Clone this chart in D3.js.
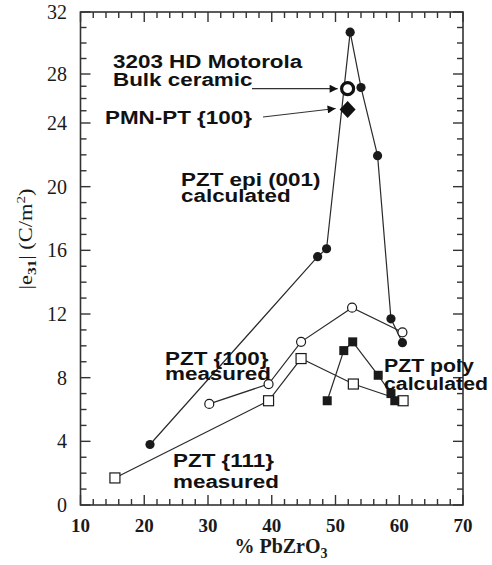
<!DOCTYPE html>
<html>
<head>
<meta charset="utf-8">
<script src="https://cdn.jsdelivr.net/npm/d3@7"></script>
<style>
  html, body { margin: 0; padding: 0; background: #fff; }
  svg { display: block; }
  .lbl { font-family: "Liberation Sans", Arial, sans-serif; font-weight: bold; font-size: 19px; fill: #111; }
</style>
</head>
<body>
<svg id="chart" width="492" height="565"></svg>
<script>
// % PbZrO3 composition and |e31| (C/m^2) for each series
const epiX   = [20.9, 47.2, 48.6, 52.3, 54.0, 56.6, 58.7, 60.5];
const epiY   = [3.8, 15.6, 16.1, 30.7, 26.9, 21.95, 11.7, 10.2];
const m100X  = [30.2, 39.5, 44.6, 52.6, 60.5];
const m100Y  = [6.35, 7.6, 10.25, 12.4, 10.85];
const m111X  = [15.4, 39.5, 44.6, 52.8, 60.6];
const m111Y  = [1.7, 6.55, 9.2, 7.6, 6.55];
const polyX  = [48.7, 51.3, 52.7, 56.7, 58.7, 59.3];
const polyY  = [6.55, 9.7, 10.25, 8.15, 7.0, 6.55];
const bulkX  = [51.9];
const bulkY  = [26.8];
const pmnX   = [51.9];
const pmnY   = [25.1];

const xTicks = [10, 20, 30, 40, 50, 60, 70];
const yTicks = [0, 4, 8, 12, 16, 20, 24, 28, 32];

const svg = d3.select("#chart");
const ink = "#1a1a1a";

const x = d3.scaleLinear().domain([10, 70]).range([80.5, 463]);
// the upper band of the ordinate is drawn slightly compressed
const y = d3.scaleLinear().domain([0, 24, 28, 32]).range([505, 123, 74, 12]);

const pts = (xs, ys) => xs.map((v, i) => [v, ys[i]]);
const line = d3.line().x(d => x(d[0])).y(d => y(d[1]));

// frame
svg.append("rect")
  .attr("x", x(10)).attr("y", y(32))
  .attr("width", x(70) - x(10)).attr("height", y(0) - y(32))
  .attr("fill", "none").attr("stroke", "#333").attr("stroke-width", 1.6);

// inward ticks on all four sides
const xMinor = d3.range(10, 70.1, 2);
const yMinor = d3.range(0, 32.1, 1);
const tk = svg.append("g").attr("stroke", "#333").attr("stroke-width", 1.4);
xMinor.forEach(v => {
  const len = v % 10 === 0 ? 10 : 6;
  tk.append("line").attr("x1", x(v)).attr("x2", x(v)).attr("y1", y(0)).attr("y2", y(0) - len);
  tk.append("line").attr("x1", x(v)).attr("x2", x(v)).attr("y1", y(32)).attr("y2", y(32) + len);
});
yMinor.forEach(v => {
  const len = v % 4 === 0 ? 10 : 6;
  tk.append("line").attr("y1", y(v)).attr("y2", y(v)).attr("x1", x(10)).attr("x2", x(10) + len);
  tk.append("line").attr("y1", y(v)).attr("y2", y(v)).attr("x1", x(70)).attr("x2", x(70) - len);
});

// tick labels
svg.append("g").selectAll("text").data(yTicks).join("text")
  .attr("x", 67).attr("y", d => y(d) + 7)
  .attr("text-anchor", "end")
  .attr("font-family", "Liberation Serif, Times New Roman, serif")
  .attr("font-size", 20).attr("fill", ink)
  .text(d => d);
svg.append("g").selectAll("text").data(xTicks).join("text")
  .attr("x", d => x(d)).attr("y", 532)
  .attr("text-anchor", "middle")
  .attr("font-family", "Liberation Serif, Times New Roman, serif")
  .attr("font-weight", "bold")
  .attr("font-size", 19).attr("fill", ink)
  .text(d => d);

// axis titles
const xt = svg.append("text")
  .attr("x", 281).attr("y", 553).attr("text-anchor", "middle")
  .attr("font-family", "Liberation Serif, Times New Roman, serif")
  .attr("font-weight", "bold")
  .attr("font-size", 20).attr("fill", ink);
xt.append("tspan").text("% PbZrO");
xt.append("tspan").attr("dy", 5).attr("font-size", 14).text("3");

const yt = svg.append("text")
  .attr("transform", "translate(32,239) rotate(-90) scale(1.18,1)")
  .attr("text-anchor", "middle")
  .attr("font-family", "Liberation Serif, Times New Roman, serif")
  .attr("font-size", 19).attr("fill", ink);
yt.append("tspan").text("|e");
yt.append("tspan").attr("dy", 4).attr("font-size", 13).attr("font-weight", "bold").text("31");
yt.append("tspan").attr("dy", -4).text("| (C/m");
yt.append("tspan").attr("dy", -7).attr("font-size", 13).text("2");
yt.append("tspan").attr("dy", 7).text(")");

// connecting lines
const lines = svg.append("g").attr("fill", "none").attr("stroke", "#2a2a2a").attr("stroke-width", 1.2);
[pts(epiX, epiY), pts(m100X, m100Y), pts(m111X, m111Y), pts(polyX, polyY)].forEach(d =>
  lines.append("path").attr("d", line(d)));

// markers
svg.append("g").selectAll("rect").data(pts(m111X, m111Y)).join("rect")
  .attr("x", d => x(d[0]) - 5).attr("y", d => y(d[1]) - 5)
  .attr("width", 10).attr("height", 10)
  .attr("fill", "#fff").attr("stroke", ink).attr("stroke-width", 1.2);
svg.append("g").selectAll("circle").data(pts(m100X, m100Y)).join("circle")
  .attr("cx", d => x(d[0])).attr("cy", d => y(d[1])).attr("r", 4.5)
  .attr("fill", "#fff").attr("stroke", ink).attr("stroke-width", 1.2);
svg.append("g").selectAll("rect").data(pts(polyX, polyY)).join("rect")
  .attr("x", d => x(d[0]) - 4.5).attr("y", d => y(d[1]) - 4.5)
  .attr("width", 9).attr("height", 9)
  .attr("fill", ink);
svg.append("g").selectAll("circle").data(pts(epiX, epiY)).join("circle")
  .attr("cx", d => x(d[0])).attr("cy", d => y(d[1])).attr("r", 4.6)
  .attr("fill", ink);

// bulk ceramic and PMN-PT reference points
svg.append("g").selectAll("circle").data(pts(bulkX, bulkY)).join("circle")
  .attr("cx", d => x(d[0])).attr("cy", d => y(d[1])).attr("r", 6)
  .attr("fill", "#fff").attr("stroke", "#111").attr("stroke-width", 3.2);
svg.append("g").selectAll("path").data(pts(pmnX, pmnY)).join("path")
  .attr("transform", d => `translate(${x(d[0])},${y(d[1])})`)
  .attr("d", "M0,-8.5L8,0L0,8.5L-8,0Z")
  .attr("fill", "#111");

// arrows pointing at the reference points
const defs = svg.append("defs");
defs.append("marker").attr("id", "head")
  .attr("viewBox", "0 0 10 10").attr("refX", 10).attr("refY", 5)
  .attr("markerWidth", 10).attr("markerHeight", 8)
  .attr("markerUnits", "userSpaceOnUse").attr("orient", "auto")
  .append("path").attr("d", "M0,0L10,5L0,10Z").attr("fill", "#111");
svg.append("line")
  .attr("x1", 252).attr("y1", y(bulkY[0])).attr("x2", x(bulkX[0]) - 10).attr("y2", y(bulkY[0]))
  .attr("stroke", "#333").attr("stroke-width", 1.2).attr("marker-end", "url(#head)");
svg.append("line")
  .attr("x1", 263).attr("y1", 117).attr("x2", x(pmnX[0]) - 12).attr("y2", y(pmnY[0]) - 1)
  .attr("stroke", "#333").attr("stroke-width", 1.2).attr("marker-end", "url(#head)");

// series labels, set slightly wide
const label = (rows, tx, ty, dy, sx) => {
  const t = svg.append("text").attr("class", "lbl")
    .attr("transform", `translate(${tx},${ty}) scale(${sx},1)`);
  rows.forEach((s, i) => t.append("tspan").attr("x", 0).attr("y", i * dy).text(s));
};
label(["3203 HD Motorola", "Bulk ceramic"], 113, 68, 18, 1.18);
label(["PMN-PT {100}"], 105, 124, 0, 1.18);
label(["PZT epi (001)", "calculated"], 181, 186, 16, 1.18);
label(["PZT {100}", "measured"], 165, 365, 15, 1.18);
label(["PZT {111}", "measured"], 173, 467, 21, 1.18);
label(["PZT poly", "calculated"], 384, 372, 18, 1.12);
</script>
</body>
</html>
